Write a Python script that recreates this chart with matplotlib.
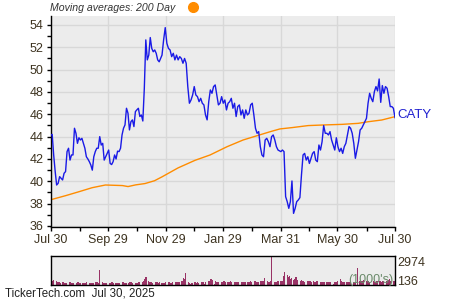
import matplotlib
matplotlib.use('Agg')
import matplotlib.pyplot as plt
import matplotlib.dates as mdates
from matplotlib.lines import Line2D
import pandas as pd
import numpy as np

plt.rcParams['font.family'] = ['Liberation Sans', 'DejaVu Sans']

# ---------------- data ----------------
ticker = "CATY"
price_a = [44.15, 44.2, 42.36, 40.9, 39.67, 39.82, 40.42, 40.27, 40.12, 40.72, 40.87, 42.66, 42.96, 41.9,
           42.36, 42.36, 44.75, 44.3, 43.4, 43.9, 43.7, 43.85, 43.4, 42.96, 42.2, 42.0, 41.76, 41.46, 41.0,
           42.2, 42.66, 42.96, 42.96, 44.0, 43.25, 43.4, 41.9, 42.2, 42.5, 42.8, 41.6, 41.5, 41.76, 42.36,
           42.0, 42.7, 42.66, 42.96, 44.15, 44.75, 45.05, 46.54, 46.1, 44.6, 45.34, 45.5, 44.9, 46.24, 46.4,
           46.54, 45.8, 45.94, 45.4, 48.33, 52.66, 50.87, 51.3, 52.87, 51.9, 51.6, 51.76, 51.46, 50.87, 50.7]
price_b = [51.3, 52.66, 53.76, 52.36, 51.9, 51.76, 51.16, 51.46, 50.87, 51.3, 50.87, 51.16, 51.0, 50.57,
           51.0, 50.57, 48.48, 46.99, 47.28, 47.73, 48.48, 47.73, 47.58, 47.13, 47.43, 46.99, 46.84, 45.94,
           45.5, 47.13, 48.18, 47.88, 48.48, 48.63, 47.73, 46.84, 46.99, 47.58, 46.99, 47.28, 46.39, 46.99,
           47.13, 47.43, 46.54, 46.99, 45.8, 46.69, 46.84, 45.94, 46.39, 45.64, 46.39, 45.94, 46.09, 46.84,
           46.99, 45.94, 44.75, 44.3, 44.45, 43.1, 42.36, 42.2, 43.7, 43.85, 43.55, 43.1, 44.0, 44.15, 43.7,
           43.1, 42.8]
price_c = [42.66, 42.8, 42.66, 38.63, 38.18, 37.58, 38.18, 40.03, 37.13, 37.58, 38.18, 38.33, 38.54, 40.57,
           42.36, 42.5, 41.9, 42.2, 41.6, 42.06, 42.5, 42.66, 41.9, 41.76, 43.25, 42.8, 43.55, 44.99, 44.3,
           44.3, 44.15, 44.45, 43.7, 43.25, 42.8, 43.9, 43.1, 42.66, 42.96, 42.5, 43.1, 43.4, 44.15, 44.9,
           44.75, 44.3, 43.4, 42.06, 42.8, 43.55, 44.6, 44.75, 45.05, 45.34, 45.64, 46.99, 47.88, 47.43,
           47.13, 48.03, 48.48, 48.09, 49.16, 47.07, 48.57, 47.88, 48.48, 48.33, 47.58, 46.69, 46.69, 46.54,
           45.7]
seg_a = ("2024-07-30", "2024-11-22")
seg_b = ("2024-11-25", "2025-03-28")
seg_c = ("2025-03-31", "2025-07-30")

ma_dates = ["2024-07-30", "2024-08-15", "2024-08-29", "2024-09-12", "2024-09-26", "2024-10-14",
            "2024-10-20", "2024-10-28", "2024-11-07", "2024-11-17", "2024-11-25", "2024-12-12",
            "2024-12-30", "2025-01-15", "2025-02-02", "2025-02-19", "2025-03-06", "2025-03-20",
            "2025-03-30", "2025-04-12", "2025-04-29", "2025-05-17", "2025-06-04", "2025-06-21",
            "2025-07-02", "2025-07-16", "2025-07-30"]
ma_values = [38.35, 38.72, 39.07, 39.43, 39.67, 39.62, 39.53, 39.68, 39.8, 40.05, 40.4, 41.2, 41.88,
             42.36, 43.1, 43.7, 44.09, 44.45, 44.69, 44.81, 44.99, 45.05, 45.1, 45.19, 45.34, 45.49, 45.79]

volume = (
    [350, 420] +
    [450, 480, 380, 330, 300, 280, 250, 260, 240, 230, 220, 250, 300, 260, 240, 210, 230, 200, 250, 260, 220, 240] +
    [230, 250, 220, 210, 260, 230, 250, 240, 210, 230, 280, 300, 260, 240, 1570, 260, 230, 240, 220, 250, 230] +
    [220, 240, 260, 230, 210, 250, 230, 220, 240, 260, 280, 230, 220, 210, 250, 300, 330, 280, 250, 240, 230, 220, 260] +
    [280, 300, 250, 450, 600, 820, 380, 300, 280, 260, 250, 300, 280, 260, 250, 270, 240, 230, 250, 220, 280] +
    [260, 280, 240, 250, 270, 300, 260, 240, 280, 350, 450, 400, 720, 600, 1240, 350, 180, 100, 200, 220, 260, 240] +
    [100, 260, 250, 280, 270, 300, 150, 350, 380, 420, 600, 650, 480, 150, 380, 320, 300, 280, 340, 360, 420, 380, 350] +
    [320, 300, 350, 380, 300, 280, 260, 300, 320, 280, 270, 300, 260, 280, 340, 300, 280, 320, 400, 350] +
    [380, 420, 350, 330, 360, 400, 380, 350, 400, 700, 380, 350, 330, 400, 2974, 350, 300, 280, 320, 400, 450] +
    [420, 380, 900, 1340, 1050, 800, 900, 650, 700, 550, 600, 780, 500, 100, 450, 500, 420, 380, 350, 400, 450, 380] +
    [400, 350, 380, 320, 350, 400, 380, 300, 350, 330, 300, 280, 320, 350, 300, 280, 330, 100, 300, 320, 350, 380] +
    [650, 380, 350, 330, 300, 320, 350, 300, 330, 380, 350, 320, 340, 0, 1750, 450, 400, 380, 350, 480, 420] +
    [400, 380, 350, 0, 380, 350, 330, 360, 400, 380, 350, 330, 400, 420, 450, 380, 500, 600, 450, 400, 380, 420]
)
vol_max_label = "2974"
vol_min_label = "136"

major_ticks = ["2024-07-30", "2024-09-29", "2024-11-29", "2025-01-29", "2025-03-31", "2025-05-30", "2025-07-30"]
major_labels = ["Jul 30", "Sep 29", "Nov 29", "Jan 29", "Mar 31", "May 30", "Jul 30"]
minor_ticks = ["2024-08-30", "2024-10-29", "2024-12-29", "2025-02-28", "2025-04-30", "2025-06-30"]

# ---------------- build series ----------------
dates_a = pd.date_range(seg_a[0], seg_a[1], periods=len(price_a))
dates_b = pd.date_range(seg_b[0], seg_b[1], periods=len(price_b))
dates_c = pd.date_range(seg_c[0], seg_c[1], periods=len(price_c))
p_dates = dates_a.append(dates_b).append(dates_c)
p_vals = price_a + price_b + price_c
v_dates = pd.bdate_range("2024-07-30", periods=len(volume))

tick_col = '#3d3320'
bg = '#ececec'

fig = plt.figure(figsize=(4.5, 3), dpi=100)
ax = fig.add_axes([50.7 / 450, 1 - 227 / 300, (395 - 50.7) / 450, (227 - 16) / 300])
ax.set_facecolor(bg)
ax.plot(p_dates, p_vals, color='#1a1ae6', lw=1.0, zorder=3)
ax.plot(pd.to_datetime(ma_dates), ma_values, color='#ff8c00', lw=1.0, zorder=2)

xmin, xmax = pd.Timestamp("2024-07-30"), pd.Timestamp("2025-07-30")
ax.set_xlim(xmin, xmax)
ax.set_ylim(35.91, 54.8)
ax.set_xticks(pd.to_datetime(major_ticks))
ax.set_xticklabels(major_labels)
ax.set_xticks(pd.to_datetime(minor_ticks), minor=True)
ax.set_yticks(np.arange(36, 55, 2))
ax.set_yticks(np.arange(37, 55, 2), minor=True)
ax.tick_params(which='both', direction='out', length=3, width=1, color='black',
               labelsize=9, labelcolor=tick_col, pad=2)
ax.grid(which='major', color='#d8d8d8', lw=1)
ax.set_axisbelow(True)
for s in ['top', 'right']:
    ax.spines[s].set_visible(False)
for s in ['left', 'bottom']:
    ax.spines[s].set_color('black')
    ax.spines[s].set_linewidth(1)

fig.text(397 / 450, 1 - 115 / 300, ticker, color='#2020d0', fontsize=9.5, va='center', ha='left')
fig.text(50 / 450, 1 - 8 / 300, "Moving averages: 200 Day", style='italic', color='#333333',
         fontsize=7.6, va='center', ha='left')
fig.add_artist(Line2D([193 / 450], [1 - 7 / 300], marker='o', markersize=7, color='#ff8c00',
                      transform=fig.transFigure))

# volume panel
vax = fig.add_axes([50.7 / 450, 1 - 285 / 300, (395 - 50.7) / 450, (285 - 256.3) / 300])
vax.set_facecolor(bg)
vax.bar(v_dates, volume, width=1.3, color='#993366', lw=0)
vax.set_xlim(xmin, xmax)
vax.set_ylim(0, max(volume))
vax.set_xticks([])
vax.set_yticks([])
for s in vax.spines.values():
    s.set_color('black')
    s.set_linewidth(1)
vax.text(0.995, 0.17, "(1000's)", transform=vax.transAxes, ha='right', va='center',
         color='#6a8a6a', fontsize=9)
fig.text(397 / 450, 1 - 263 / 300, vol_max_label, color=tick_col, fontsize=9, va='center', ha='left')
fig.text(397 / 450, 1 - 282 / 300, vol_min_label, color=tick_col, fontsize=9, va='center', ha='left')
fig.text(5 / 450, 1 - 294 / 300, "TickerTech.com  Jul 30, 2025", color='#222222', fontsize=8.3,
         va='center', ha='left')

fig.savefig('out.png', dpi=100)
